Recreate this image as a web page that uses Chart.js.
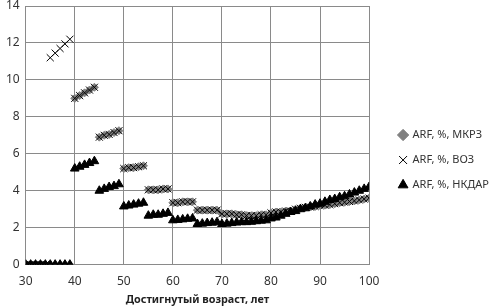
<!DOCTYPE html>
<html>
<head>
<meta charset="utf-8">
<script src="https://cdn.jsdelivr.net/npm/chart.js@4"></script>
<style>
  html, body { margin: 0; padding: 0; background: #fff; }
  #wrap { width: 495px; height: 308px; }
</style>
</head>
<body>
<div id="wrap"><canvas id="myChart" width="495" height="308"></canvas></div>
<script>
// возраст, лет
const ages = [];
for (let a = 30; a <= 100; a++) ages.push(a);

// ARF, %, МКРЗ
const mkrz = [
  0, 0, 0, 0, 0, 0, 0, 0, 0, 0,
  9.0, 9.15, 9.3, 9.45, 9.6,
  6.9, 7.0, 7.05, 7.15, 7.25,
  5.2, 5.25, 5.25, 5.3, 5.35,
  4.05, 4.05, 4.05, 4.1, 4.1,
  3.35, 3.35, 3.4, 3.4, 3.4,
  2.95, 2.95, 2.95, 2.95, 2.95,
  2.75, 2.75, 2.75, 2.7, 2.7,
  2.65, 2.65, 2.65, 2.7, 2.7,
  2.8, 2.85, 2.85, 2.9, 2.9,
  3.0, 3.05, 3.1, 3.12, 3.15, 3.2, 3.22, 3.25, 3.3, 3.35, 3.38, 3.42, 3.45, 3.5, 3.55, 3.6
];

// ARF, %, ВОЗ
const voz = [
  0, 0, 0, 0, 0,
  11.2, 11.45, 11.7, 11.95, 12.2,
  9.0, 9.15, 9.3, 9.45, 9.6,
  6.9, 7.0, 7.05, 7.15, 7.25,
  5.2, 5.25, 5.25, 5.3, 5.35,
  4.05, 4.05, 4.05, 4.1, 4.1,
  3.35, 3.35, 3.4, 3.4, 3.4,
  2.95, 2.95, 2.95, 2.95, 2.95,
  2.75, 2.75, 2.75, 2.7, 2.7,
  2.65, 2.65, 2.65, 2.7, 2.7,
  2.8, 2.85, 2.85, 2.9, 2.9,
  3.0, 3.05, 3.1, 3.12, 3.15, 3.2, 3.22, 3.25, 3.3, 3.35, 3.38, 3.42, 3.45, 3.5, 3.55, 3.6
];

// ARF, %, НКДАР
const nkdar = [
  0, 0, 0, 0, 0, 0, 0, 0, 0, 0,
  5.2, 5.3, 5.4, 5.5, 5.6,
  4.0, 4.1, 4.2, 4.25, 4.35,
  3.15, 3.2, 3.25, 3.3, 3.35,
  2.65, 2.7, 2.7, 2.75, 2.8,
  2.4, 2.42, 2.45, 2.48, 2.5,
  2.2, 2.22, 2.25, 2.27, 2.3,
  2.2, 2.22, 2.25, 2.28, 2.3,
  2.3, 2.32, 2.35, 2.38, 2.4,
  2.5, 2.55, 2.65, 2.75, 2.85, 2.9, 3.0, 3.05, 3.15, 3.25, 3.3,
  3.4, 3.5, 3.55, 3.65, 3.7, 3.8, 3.9, 4.0, 4.1, 4.2
];

const xTicks = [30, 40, 50, 60, 70, 80, 90, 100];
const yTicks = [0, 2, 4, 6, 8, 10, 12, 14];

function pts(arr) {
  return arr.map((v, i) => ({ x: ages[i], y: v }));
}

const fnt = "'Noto Sans', 'DejaVu Sans', sans-serif";
const ctx = document.getElementById('myChart');

// сдвигаем легенду вправо от области графика и чуть ниже
const legendShift = {
  id: 'legendShift',
  afterLayout(chart) {
    const lg = chart.legend;
    const w = lg.right - lg.left;
    lg.left = chart.chartArea.right + 16;
    lg.right = lg.left + w;
    lg.top += 7;
    lg.bottom += 7;
  }
};

const chart = new Chart(ctx, {
  type: 'scatter',
  data: {
    datasets: [
      {
        label: 'ARF, %, МКРЗ',
        data: pts(mkrz),
        pointStyle: 'rectRot',
        pointRadius: 4,
        backgroundColor: '#808080',
        borderColor: '#808080',
        borderWidth: 1,
        order: 3
      },
      {
        label: 'ARF, %, ВОЗ',
        data: pts(voz),
        pointStyle: 'crossRot',
        pointRadius: 5,
        backgroundColor: '#000',
        borderColor: '#000',
        borderWidth: 1,
        order: 2
      },
      {
        label: 'ARF, %, НКДАР',
        data: pts(nkdar),
        pointStyle: 'triangle',
        pointRadius: 5,
        backgroundColor: '#000',
        borderColor: '#000',
        borderWidth: 1,
        order: 1
      }
    ]
  },
  plugins: [legendShift],
  options: {
    responsive: false,
    animation: false,
    layout: { padding: { top: 0, right: 12, left: 0, bottom: 2 } },
    plugins: {
      tooltip: { enabled: false },
      legend: {
        position: 'right',
        labels: {
          usePointStyle: true,
          boxWidth: 8,
          boxHeight: 8,
          padding: 14,
          color: '#333',
          font: { family: fnt, size: 11 },
          sort: (a, b) => a.datasetIndex - b.datasetIndex
        }
      }
    },
    scales: {
      x: {
        type: 'linear',
        min: 30,
        max: 100,
        afterBuildTicks: (ax) => { ax.ticks = xTicks.map(v => ({ value: v })); },
        grid: { color: '#8a8a8a', lineWidth: 1, drawTicks: false },
        border: { color: '#8a8a8a' },
        ticks: { color: '#333', padding: 10, font: { family: fnt, size: 12 } },
        title: {
          display: true,
          text: 'Достигнутый возраст, лет',
          color: '#222',
          padding: { top: -6, bottom: 0 },
          font: { family: fnt, size: 10.8, weight: 'bold' }
        }
      },
      y: {
        min: 0,
        max: 14,
        afterBuildTicks: (ax) => { ax.ticks = yTicks.map(v => ({ value: v })); },
        afterFit: (ax) => { ax.paddingTop = 4; },
        grid: { color: '#8a8a8a', lineWidth: 1, drawTicks: false },
        border: { color: '#8a8a8a' },
        ticks: { color: '#333', padding: 6, font: { family: fnt, size: 12 } }
      }
    }
  }
});
</script>
</body>
</html>
